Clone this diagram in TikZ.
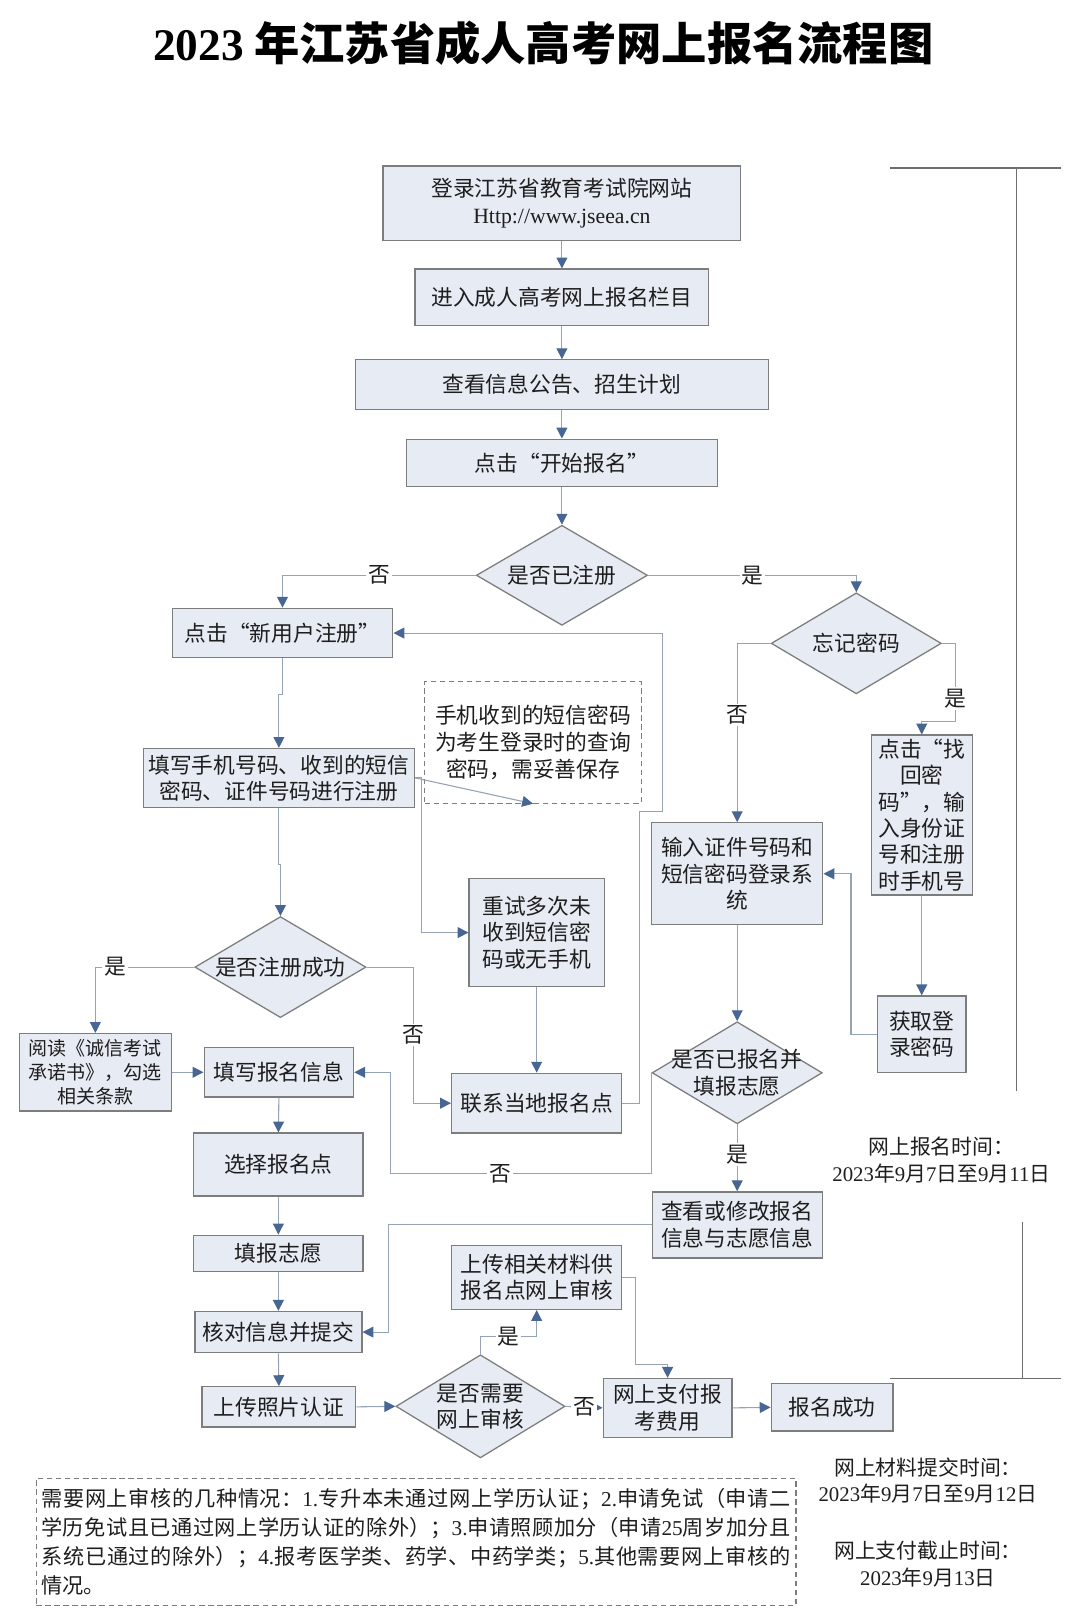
\documentclass[tikz,border=0pt]{standalone}
\usepackage{fontspec}
\setmainfont{Noto Sans CJK SC}
\newfontfamily\lat{Liberation Serif}
\newcommand{\latn}[1]{{\lat#1}}
\usetikzlibrary{arrows.meta,shapes.geometric,calc}
\definecolor{boxfill}{RGB}{231,235,244}
\definecolor{boxline}{RGB}{125,125,125}
\definecolor{connline}{RGB}{150,163,182}
\definecolor{tipc}{RGB}{72,102,148}
\definecolor{txt}{RGB}{30,30,30}
\definecolor{brk}{RGB}{110,110,110}
\tikzset{
  bw/.style={minimum width=#1*0.02cm},
  bh/.style={minimum height=#1*0.02cm},
  fbox/.style={draw=boxline, line width=0.7pt, fill=boxfill, align=center, inner sep=0pt, text=txt, font=\fontsize{12}{14.5}\selectfont},
  dia/.style={fbox, shape=diamond, aspect=1.68},
  notebox/.style={draw=boxline, line width=0.6pt, dash pattern=on 3pt off 2pt, fill=white, text=txt},
  conn/.style={draw=connline, line width=0.6pt},
  arr/.style={conn, -{Triangle[length=6pt,width=6pt,color=tipc]}},
  lab/.style={fill=white, inner sep=1pt, text=txt, font=\fontsize{12}{12}\selectfont},
  sidetext/.style={align=center, text=txt, font=\fontsize{11.5}{14.7}\selectfont},
  brkline/.style={draw=brk, line width=0.7pt},
}
\begin{document}
\begin{tikzpicture}[x=0.02cm, y=-0.02cm]
\useasboundingbox (0,0) rectangle (1047.5,1566.4);
\fill[white] (0,0) rectangle (1047.5,1566.4);

% title
\node[text=black] (title) at (527,42) {\fontsize{25}{30}\selectfont\bfseries{\lat 2023} 年江苏省成人高考网上报名流程图};

% main column
\node[fbox,bw=347,bh=72] (b1) at (545,197) {登录江苏省教育考试院网站\\{\lat Http://www.jseea.cn}};
\node[fbox,bw=285,bh=55] (b2) at (545,288.5) {进入成人高考网上报名栏目};
\node[fbox,bw=401,bh=48] (b3) at (545,373) {查看信息公告、招生计划};
\node[fbox,bw=302,bh=46] (b4) at (545,449) {点击“开始报名”};
\node[dia,bw=166,bh=97] (d1) at (545,558) {是否已注册};

% left branch
\node[fbox,bw=214,bh=48] (b5) at (274,614) {点击“新用户注册”};
\node[fbox,bw=263,bh=57] (b6) at (270.5,754.5) {填写手机号码、收到的短信\\密码、证件号码进行注册};
\node[notebox,bw=210,bh=118,align=center,inner sep=0pt,font=\fontsize{12}{15}\selectfont] (n1) at (517,720) {手机收到的短信密码\\为考生登录时的查询\\密码，需妥善保存};
\node[fbox,bw=131,bh=105] (b7) at (520.5,904.5) {重试多次未\\收到短信密\\码或无手机};
\node[fbox,bw=165,bh=58] (b8) at (520.5,1070) {联系当地报名点};
\node[dia,bw=166,bh=98] (d3) at (272,938) {是否注册成功};
\node[fbox,bw=147,bh=75,font=\fontsize{10.5}{13.2}\selectfont] (b9) at (92.5,1040) {阅读《诚信考试\\承诺书》，勾选\\相关条款};
\node[fbox,bw=145,bh=48] (b10) at (270.5,1040) {填写报名信息};
\node[fbox,bw=164,bh=61] (b15) at (270,1129.5) {选择报名点};
\node[fbox,bw=164,bh=35] (b16) at (270,1215.5) {填报志愿};
\node[fbox,bw=162,bh=40] (b17) at (270,1292) {核对信息并提交};
\node[fbox,bw=149,bh=39] (b18) at (270.5,1364.5) {上传照片认证};
\node[dia,bw=164,bh=100] (d5) at (466,1364) {是否需要\\网上审核};
\node[fbox,bw=165,bh=62] (b19) at (520.5,1239) {上传相关材料供\\报名点网上审核};
\node[fbox,bw=125,bh=57] (b20) at (647.5,1365.5) {网上支付报\\考费用};
\node[fbox,bw=118,bh=46] (b21) at (807,1365) {报名成功};

% right branch
\node[dia,bw=165,bh=98] (d2) at (830.5,624) {忘记密码};
\node[fbox,bw=166,bh=99] (b11) at (715,847.5) {输入证件号码和\\短信密码登录系\\统};
\node[fbox,bw=98,bh=155] (b12) at (894,790.5) {点击“找\\回密\\码”，输\\入身份证\\号和注册\\时手机号};
\node[fbox,bw=86,bh=74] (b13) at (894,1003) {获取登\\录密码};
\node[dia,bw=165,bh=99,inner xsep=-0.4cm] (d4) at (715,1040.5) {是否已报名并\\填报志愿};
\node[fbox,bw=165,bh=64] (b14) at (715,1188) {查看或修改报名\\信息与志愿信息};

% bottom note
\node[notebox,bw=737,bh=123,text width=14.54cm,inner xsep=0.1cm,inner ysep=0pt,align=justify,font=\fontsize{11.7}{15.9}\selectfont] (n2) at (403.5,1495.5)
{\XeTeXlinebreaklocale "zh"\XeTeXlinebreakskip=0pt plus 3pt 需要网上审核的几种情况：\latn{1.}专升本未通过网上学历认证；\latn{2.}申请免试（申请二\linebreak 学历免试且已通过网上学历认证的除外）；\latn{3.}申请照顾加分（申请\latn{25}周岁加分且\linebreak 系统已通过的除外）；\latn{4.}报考医学类、药学、中药学类；\latn{5.}其他需要网上审核的\linebreak 情况。};

% side texts
\node[sidetext] (s1) at (913,1125) {网上报名时间：\\\latn{2023}年\latn{9}月\latn{7}日至\latn{9}月\latn{11}日};
\node[sidetext] (s2) at (900,1436) {网上材料提交时间：\\\latn{2023}年\latn{9}月\latn{7}日至\latn{9}月\latn{12}日};
\node[sidetext] (s3) at (900,1517) {网上支付截止时间：\\\latn{2023}年\latn{9}月\latn{13}日};

% brackets
\coordinate (r1) at (863,163); \coordinate (r2) at (1029,163);
\coordinate (r3) at (986,163); \coordinate (r4) at (986,1058);
\coordinate (r5) at (992,1185); \coordinate (r6) at (992,1337);
\coordinate (r7) at (863,1337); \coordinate (r8) at (1029,1337);
\draw[brkline] (r1) -- (r2);
\draw[brkline] (r3) -- (r4);
\draw[brkline] (r5) -- (r6);
\draw[brkline] (r7) -- (r8);

% connectors
\draw[arr] (b1.south) -- (b2.north);
\draw[arr] (b2.south) -- (b3.north);
\draw[arr] (b3.south) -- (b4.north);
\draw[arr] (b4.south) -- (d1.north);
\draw[arr] (d1.west) -| node[lab,pos=0.25]{否} (b5.north);
\draw[arr] (d1.east) -| node[lab,pos=0.25]{是} (d2.north);
\draw[arr] (b5.south) -- ++(0,35) -| (b6.north);
\draw[arr] (b6.south) -- ++(0,55) -| (d3.north);
\draw[arr] (b6.east) -- (n1.south);
\draw[arr] (b6.east) -- ++(6,0) |- (b7.west);
\draw[arr] (b7.south) -- (b8.north);
\draw[arr] (b8.east) -- ++(17,0) -- ++(0,-283) -- ++(22,0) |- (b5.east);
\draw[arr] (d3.west) -| node[lab,pos=0.4]{是} (b9.north);
\draw[arr] (d3.east) -- ++(45,0) |- node[lab,pos=0.25]{否} (b8.west);
\draw[arr] (b9.east) -- (b10.west);
\draw[arr] (d4.west) -- ++(0,98) -| node[lab,pos=0.29]{否} ($(b10.east)+(35,0)$) -- (b10.east);
\draw[arr] (b11.south) -- (d4.north);
\draw[arr] (d2.west) -| node[lab,pos=0.7]{否} (b11.north);
\draw[arr] (d2.east) -- ++(13,0) -- node[lab,pos=0.7]{是} ++(0,76) -| (b12.north);
\draw[arr] (b12.south) -- (b13.north);
\draw[arr] (b13.west) -- ++(-25,0) |- (b11.east);
\draw[arr] (d4.south) -- node[lab,pos=0.45]{是} (b14.north);
\draw[arr] (b14.west) -| ($(b17.east)+(25,0)$) -- (b17.east);
\draw[arr] (b10.south) -- (b15.north);
\draw[arr] (b15.south) -- (b16.north);
\draw[arr] (b16.south) -- (b17.north);
\draw[arr] (b17.south) -- (b18.north);
\draw[arr] (b18.east) -- (d5.west);
\draw[arr] (d5.north) -- ++(0,-17) -| node[lab,pos=0.25]{是} (b19.south);
\draw[arr] (b19.east) -- ++(13,0) -- ++(0,84) -| (b20.north);
\draw[arr] (d5.east) -- node[lab]{否} (b20.west);
\draw[arr] (b20.east) -- (b21.west);
\end{tikzpicture}
\end{document}
